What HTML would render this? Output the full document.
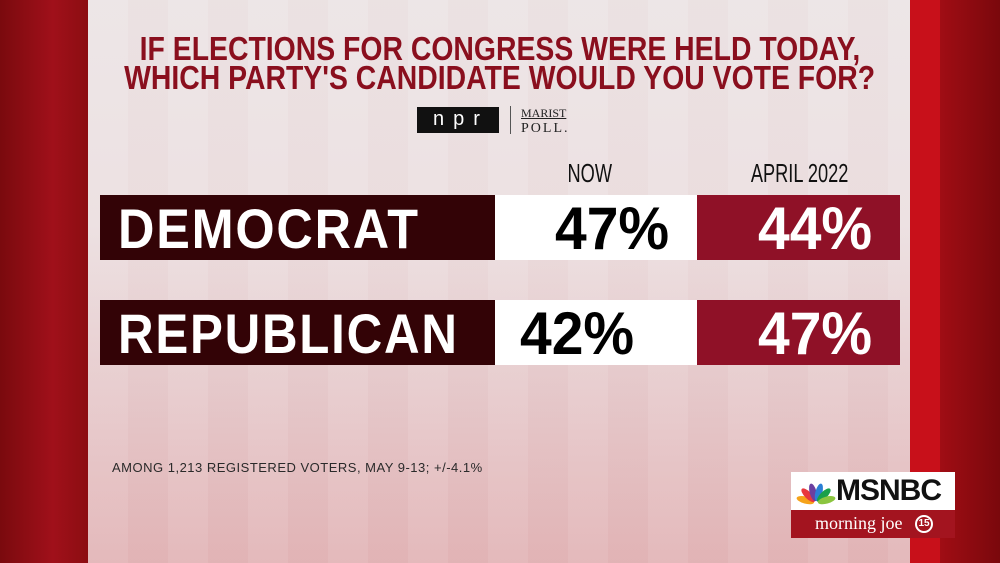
<!DOCTYPE html>
<html><head><meta charset="utf-8"><style>
*{margin:0;padding:0;box-sizing:border-box}
body{width:1000px;height:563px;overflow:hidden;position:relative;font-family:"Liberation Sans",sans-serif;background:#8a0b10}
.abs{position:absolute}
.t{white-space:nowrap;font-weight:bold;display:inline-block;transform-origin:center}
</style></head><body>
<div class="abs" style="left:0;top:0;width:88px;height:563px;background:linear-gradient(90deg,#7a0a0e,#a0101a 60%,#8c0d12)"></div>
<div class="abs" style="left:910px;top:0;width:30px;height:563px;background:#c8101a"></div>
<div class="abs" style="left:940px;top:0;width:60px;height:563px;background:linear-gradient(90deg,#a00d14,#7a080c)"></div>
<div class="abs" style="left:88px;top:0;width:822px;height:563px;background:linear-gradient(180deg,#ece4e5 0%,#ecdfe0 40%,#e6c9cb 70%,#e2b4b6 100%)"></div>
<div class="abs" style="left:88px;top:0;width:822px;height:563px;background:repeating-linear-gradient(90deg,rgba(255,255,255,0.07) 0 40px,rgba(200,150,150,0.03) 40px 80px)"></div>

<div class="abs" style="left:0;width:1000px;top:34px;text-align:center;color:#8a0f1e;font-size:33px;line-height:29px">
<span class="t" style="transform:scaleX(0.86)">IF ELECTIONS FOR CONGRESS WERE HELD TODAY,</span><br>
<span class="t" style="transform:scaleX(0.86)">WHICH PARTY'S CANDIDATE WOULD YOU VOTE FOR?</span></div>

<div class="abs" style="left:417px;top:107px;width:82px;height:26px;background:#111;color:#fff;font-size:20px;letter-spacing:9px;text-align:center;line-height:25px;padding-left:6px">npr</div>
<div class="abs" style="left:510px;top:106px;width:1px;height:28px;background:#555"></div>
<div class="abs" style="left:521px;top:106px;font-family:'Liberation Serif',serif;color:#222;font-size:12px;line-height:14px;text-decoration:underline">MARIST</div>
<div class="abs" style="left:521px;top:121px;font-family:'Liberation Serif',serif;color:#222;font-size:14px;letter-spacing:2px">POLL.</div>

<div class="abs" style="left:555px;top:158px;width:70px;text-align:center;font-size:26px;color:#111"><span class="t" style="font-weight:normal;transform:scaleX(0.7)">NOW</span></div>
<div class="abs" style="left:700px;top:158px;width:200px;text-align:center;font-size:26px;color:#111"><span class="t" style="font-weight:normal;transform:scaleX(0.7)">APRIL 2022</span></div>

<div class="abs" style="left:100px;top:195px;width:395px;height:65px;background:#330306"></div>
<div class="abs" style="left:495px;top:195px;width:202px;height:65px;background:#fff"></div>
<div class="abs" style="left:697px;top:195px;width:203px;height:65px;background:#8f1127"></div>
<div class="abs" style="left:100px;top:300px;width:395px;height:65px;background:#330306"></div>
<div class="abs" style="left:495px;top:300px;width:202px;height:65px;background:#fff"></div>
<div class="abs" style="left:697px;top:300px;width:203px;height:65px;background:#8f1127"></div>

<div class="abs" style="left:118px;top:199px;color:#fff;font-size:56px;line-height:60px"><span class="t" style="transform:scaleX(0.9);transform-origin:left;letter-spacing:2px">DEMOCRAT</span></div>
<div class="abs" style="left:118px;top:304px;color:#fff;font-size:56px;line-height:60px"><span class="t" style="transform:scaleX(0.88);transform-origin:left;letter-spacing:2px">REPUBLICAN</span></div>
<div class="abs" style="left:555px;top:199px;color:#000;font-size:60px;line-height:60px"><span class="t" style="transform:scaleX(0.95);transform-origin:left">47%</span></div>
<div class="abs" style="left:520px;top:304px;color:#000;font-size:60px;line-height:60px"><span class="t" style="transform:scaleX(0.95);transform-origin:left">42%</span></div>
<div class="abs" style="left:758px;top:199px;color:#fff;font-size:60px;line-height:60px"><span class="t" style="transform:scaleX(0.95);transform-origin:left">44%</span></div>
<div class="abs" style="left:758px;top:304px;color:#fff;font-size:60px;line-height:60px"><span class="t" style="transform:scaleX(0.95);transform-origin:left">47%</span></div>

<div class="abs" style="left:112px;top:460px;color:#2a2a2a;font-size:13px;letter-spacing:0.5px">AMONG 1,213 REGISTERED VOTERS, MAY 9-13; +/-4.1%</div>

<div class="abs" style="left:791px;top:472px;width:164px;height:38px;background:#fff"></div>
<svg class="abs" style="left:796px;top:479px" width="40" height="26" viewBox="0 0 40 26">
<g transform="translate(20,24)">
<ellipse cx="0" cy="-11" rx="3.5" ry="9" fill="#f5a31a" transform="rotate(-75)"/>
<ellipse cx="0" cy="-11" rx="3.5" ry="9" fill="#e8373e" transform="rotate(-45)"/>
<ellipse cx="0" cy="-11" rx="3.5" ry="9" fill="#6b3fa0" transform="rotate(-15)"/>
<ellipse cx="0" cy="-11" rx="3.5" ry="9" fill="#2a7fd6" transform="rotate(15)"/>
<ellipse cx="0" cy="-11" rx="3.5" ry="9" fill="#1aa04a" transform="rotate(45)"/>
<ellipse cx="0" cy="-11" rx="3.5" ry="9" fill="#8bc53f" transform="rotate(75)"/>
</g>
</svg>
<div class="abs" style="left:836px;top:474px;font-size:30px;font-weight:bold;color:#111;letter-spacing:-1px">MSNBC</div>
<div class="abs" style="left:791px;top:510px;width:164px;height:28px;background:#a3141f"></div>
<div class="abs" style="left:815px;top:513px;font-family:'Liberation Serif',serif;font-size:18px;color:#fff">morning joe</div>
<div class="abs" style="left:915px;top:515px;width:18px;height:18px;border:2px solid #fff;border-radius:50%;color:#fff;font-size:10px;text-align:center;line-height:14px;font-weight:bold">15</div>
</body></html>
